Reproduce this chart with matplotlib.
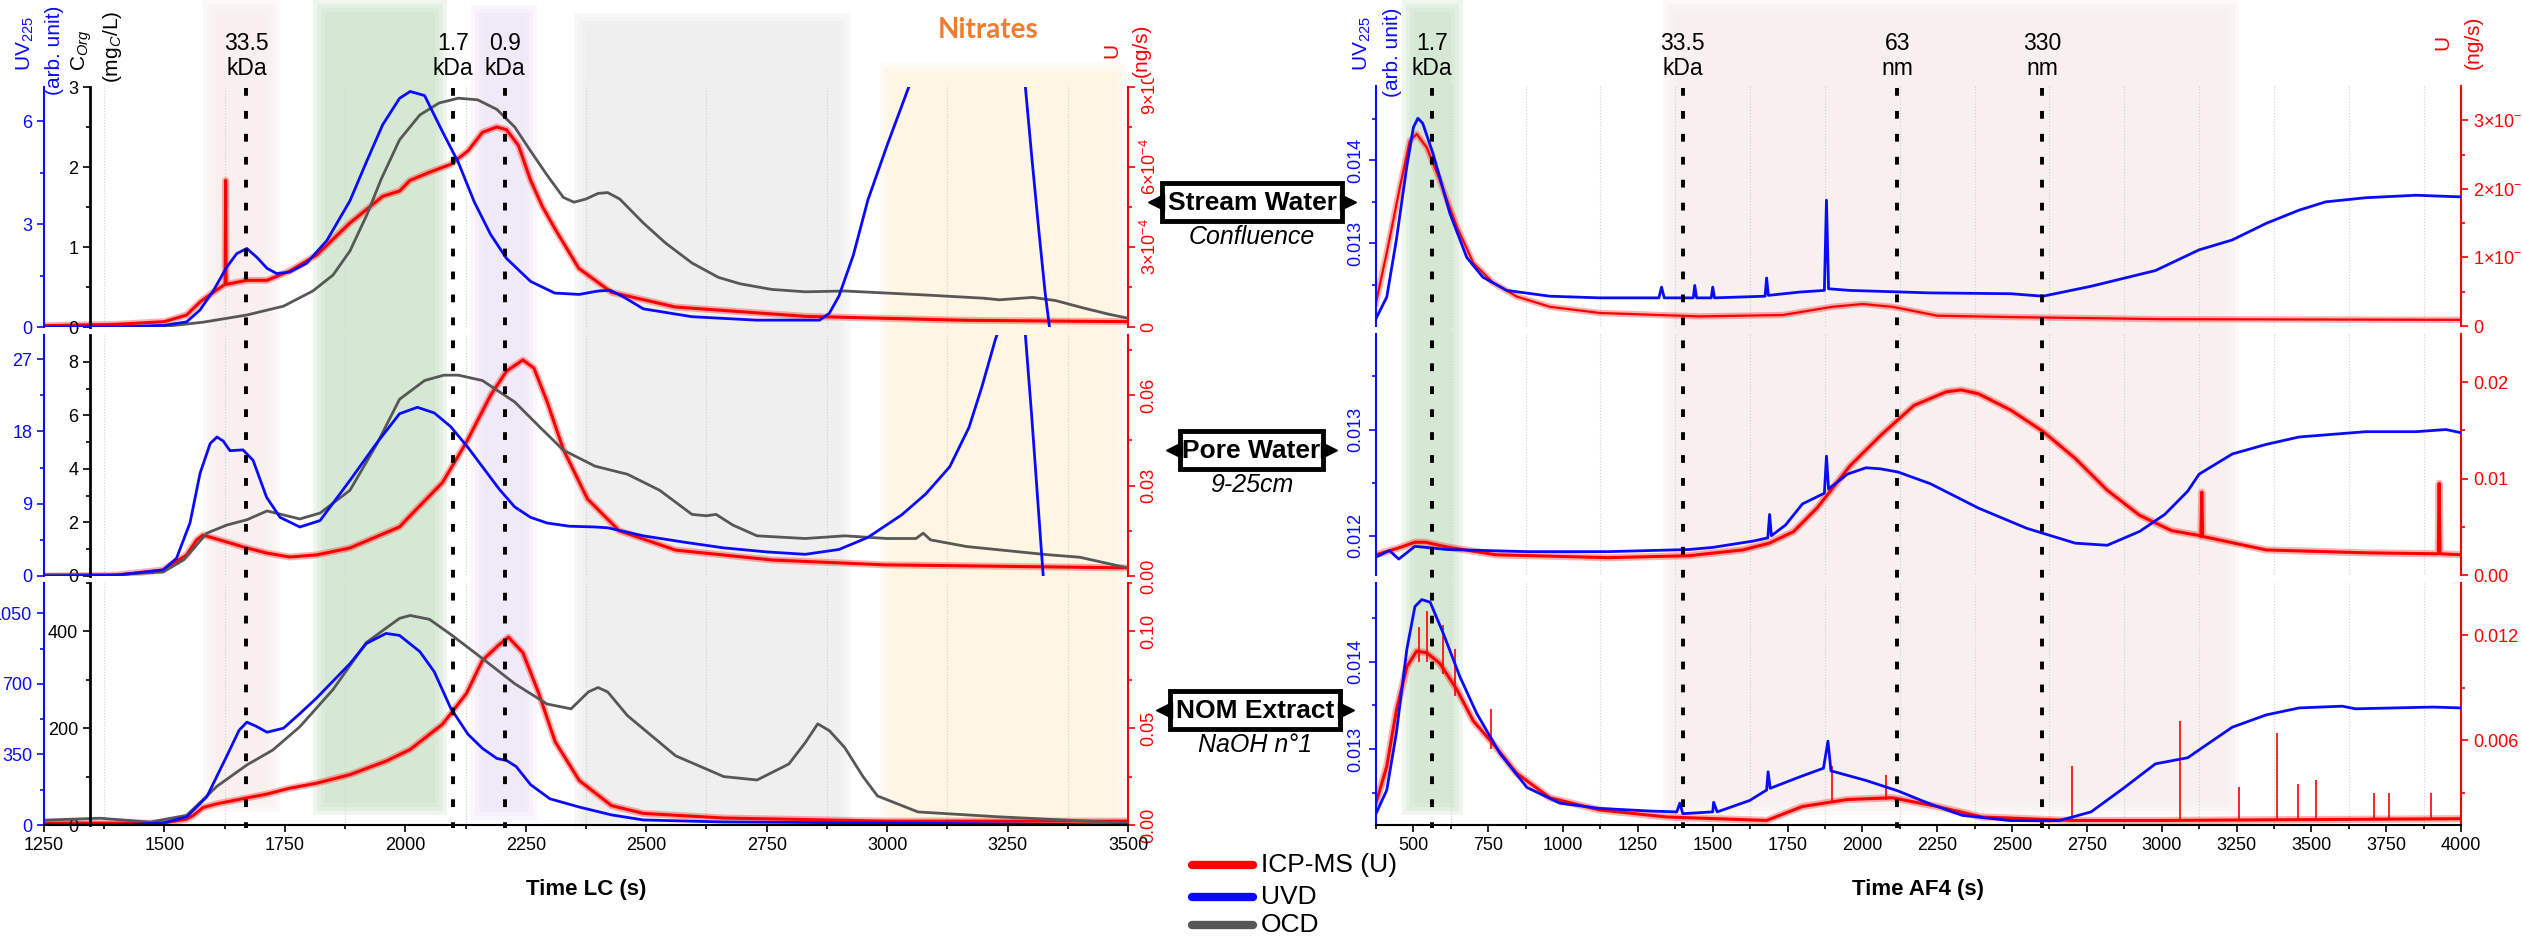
import numpy as np
import matplotlib.pyplot as plt
from matplotlib.patches import Rectangle
from matplotlib.ticker import FixedLocator, FixedFormatter, MultipleLocator

plt.rcParams['font.family'] = ['Liberation Sans', 'DejaVu Sans']
plt.rcParams['mathtext.fontset'] = 'custom'
plt.rcParams['mathtext.rm'] = 'Liberation Sans'
plt.rcParams['mathtext.it'] = 'Liberation Sans:italic'
plt.rcParams['mathtext.bf'] = 'Liberation Sans:bold'

W, H = 2522, 944
BLUE = '#0a0aff'
RED = '#ff0000'
GRAY = '#575757'
TICK_FS = 13

# ---------------- LC data (left), time in s ----------------
# Stream water
lc_uv_stream_t = [1250, 1400, 1500, 1546, 1574, 1602, 1629, 1650, 1671, 1692, 1713, 1733, 1760, 1795, 1837,
                  1885, 1920, 1953, 1988, 2010, 2040, 2077, 2110, 2143, 2177, 2210, 2260, 2310, 2361, 2400,
                  2425, 2450, 2494, 2595, 2728, 2830, 2860, 2880, 2900, 2930, 2960, 3000, 3045, 3070, 3270,
                  3287, 3300, 3315, 3328, 3337]
lc_uv_stream = [0, 0, 0.05, 0.15, 0.5, 1.07, 1.74, 2.14, 2.29, 2.03, 1.71, 1.56, 1.6, 1.86, 2.52,
                3.68, 4.84, 5.9, 6.67, 6.87, 6.75, 5.7, 4.8, 3.65, 2.7, 2.0, 1.33, 0.99, 0.95, 1.05,
                1.07, 0.9, 0.53, 0.3, 0.2, 0.2, 0.2, 0.4, 0.9, 2.1, 3.7, 5.3, 7.0, 8.0, 8.0,
                7.0, 5.0, 2.8, 1.0, 0.0]
lc_oc_stream_t = [1250, 1350, 1505, 1580, 1671, 1747, 1808, 1850, 1885, 1920, 1950, 1988, 2030, 2070, 2110,
                  2150, 2190, 2227, 2260, 2294, 2328, 2350, 2375, 2400, 2420, 2445, 2494, 2540, 2595, 2650,
                  2695, 2760, 2830, 2912, 2980, 3080, 3200, 3233, 3302, 3350, 3406, 3460, 3500]
lc_oc_stream = [0, 0, 0.01, 0.06, 0.15, 0.26, 0.45, 0.65, 0.95, 1.4, 1.85, 2.34, 2.65, 2.8, 2.86,
                2.84, 2.72, 2.5, 2.2, 1.9, 1.62, 1.56, 1.6, 1.67, 1.68, 1.6, 1.3, 1.05, 0.8, 0.62,
                0.54, 0.47, 0.44, 0.45, 0.43, 0.4, 0.36, 0.34, 0.37, 0.33, 0.24, 0.16, 0.11]
lc_u_stream_t = [1250, 1400, 1500, 1546, 1574, 1609, 1626, 1627, 1628, 1671, 1713, 1760, 1816, 1885, 1953,
                 1988, 2010, 2050, 2094, 2130, 2160, 2190, 2210, 2235, 2260, 2285, 2310, 2360, 2428, 2560,
                 2830, 3165, 3500]
lc_u_stream_e4 = [0.05, 0.1, 0.2, 0.45, 0.94, 1.4, 1.6, 5.5, 1.6, 1.75, 1.75, 2.1, 2.7, 3.9, 4.9,
                  5.1, 5.5, 5.8, 6.1, 6.6, 7.3, 7.5, 7.4, 6.8, 5.5, 4.5, 3.7, 2.2, 1.3, 0.75,
                  0.4, 0.25, 0.2]

# Pore water
lc_uv_pore_t = [1250, 1400, 1497, 1525, 1553, 1574, 1595, 1609, 1622, 1636, 1663, 1684, 1712, 1740, 1781,
                1823, 1885, 1940, 1988, 2025, 2060, 2094, 2130, 2160, 2195, 2227, 2260, 2294, 2340, 2394,
                2420, 2450, 2494, 2580, 2661, 2750, 2830, 2900, 2960, 3030, 3080, 3130, 3170, 3197, 3225,
                3240, 3280, 3287, 3300, 3312, 3324]
lc_uv_pore = [0, 0.1, 0.75, 2.2, 6.6, 12.8, 16.5, 17.3, 16.8, 15.6, 15.7, 14.4, 9.8, 7.3, 6.1,
              6.9, 11.9, 16.5, 20.2, 21.0, 20.3, 18.6, 16.0, 13.6, 10.8, 8.6, 7.3, 6.6, 6.2, 6.1,
              6.0, 5.6, 5.0, 4.2, 3.5, 3.0, 2.7, 3.3, 4.8, 7.6, 10.2, 13.6, 18.5, 23.6, 29.5,
              32, 32, 30, 20, 10, 0]
lc_oc_pore_t = [1250, 1400, 1497, 1540, 1588, 1629, 1671, 1713, 1747, 1781, 1823, 1885, 1940, 1988, 2040,
                2080, 2110, 2160, 2227, 2277, 2328, 2394, 2461, 2528, 2595, 2625, 2645, 2680, 2730, 2830,
                2912, 3000, 3060, 3075, 3090, 3165, 3330, 3400, 3500]
lc_oc_pore = [0.05, 0.05, 0.15, 0.6, 1.6, 1.9, 2.1, 2.43, 2.28, 2.13, 2.35, 3.2, 4.9, 6.6, 7.3,
              7.5, 7.5, 7.3, 6.5, 5.6, 4.7, 4.1, 3.8, 3.2, 2.3, 2.25, 2.3, 1.9, 1.5, 1.4,
              1.5, 1.4, 1.4, 1.6, 1.35, 1.1, 0.8, 0.7, 0.3]
lc_u_pore_t = [1250, 1400, 1497, 1546, 1567, 1580, 1629, 1671, 1713, 1760, 1816, 1885, 1988, 2010, 2077,
               2127, 2177, 2210, 2244, 2267, 2294, 2328, 2378, 2444, 2561, 2762, 2996, 3500]
lc_u_pore = [0, 0.0003, 0.002, 0.007, 0.012, 0.0136, 0.0113, 0.0093, 0.0076, 0.0063, 0.007, 0.0093, 0.0163,
             0.020, 0.031, 0.0445, 0.060, 0.068, 0.0717, 0.069, 0.058, 0.042, 0.0256, 0.015, 0.0086,
             0.0053, 0.0037, 0.0027]

# NOM extract
lc_uv_nom_t = [1250, 1400, 1497, 1546, 1588, 1629, 1655, 1671, 1690, 1713, 1747, 1780, 1816, 1885, 1919,
               1960, 1988, 2030, 2060, 2094, 2130, 2160, 2190, 2210, 2230, 2260, 2300, 2361, 2428, 2494,
               2660, 3000, 3500]
lc_uv_nom = [0, 0, 10, 40, 140, 340, 470, 510, 490, 460, 480, 550, 630, 800, 900,
             950, 940, 860, 760, 580, 450, 380, 330, 320, 290, 200, 130, 89, 50, 25,
             15, 10, 0]
lc_oc_nom_t = [1250, 1366, 1470, 1546, 1609, 1671, 1725, 1781, 1850, 1919, 1988, 2010, 2050, 2094, 2160,
               2227, 2294, 2344, 2380, 2400, 2420, 2461, 2561, 2661, 2730, 2796, 2830, 2856, 2880, 2912,
               2950, 2980, 3064, 3230, 3500]
lc_oc_nom = [10, 14, 6, 20, 80, 124, 155, 203, 280, 377, 427, 433, 425, 394, 344,
             292, 250, 240, 275, 284, 275, 226, 143, 100, 93, 126, 170, 209, 195, 160,
             100, 60, 27, 17, 4]
lc_u_nom_t = [1250, 1497, 1546, 1560, 1580, 1610, 1671, 1713, 1760, 1816, 1885, 1960, 2010, 2077, 2127,
              2160, 2194, 2214, 2244, 2277, 2311, 2361, 2428, 2494, 2661, 3000, 3500]
lc_u_nom = [0.001, 0.001, 0.003, 0.005, 0.009, 0.011, 0.014, 0.016, 0.019, 0.0216, 0.026, 0.033, 0.039,
            0.052, 0.068, 0.085, 0.093, 0.097, 0.089, 0.068, 0.043, 0.023, 0.010, 0.006, 0.0036, 0.002, 0.002]

# ---------------- AF4 data (right), time in s ----------------
af4_uv_stream_t = [375, 411, 443, 478, 500, 515, 531, 565, 622, 678, 732, 812, 956, 1122, 1320,
                   1329, 1338, 1435, 1440, 1446, 1495, 1500, 1506, 1675, 1680, 1686, 1790, 1873, 1880,
                   1887, 1958, 2227, 2496, 2603, 2764, 2979, 3125, 3236, 3349, 3459, 3548, 3682, 3849, 4000]
af4_uv_stream = [0.01209, 0.01235, 0.01304, 0.01393, 0.01440, 0.01451, 0.01445, 0.01409, 0.01336, 0.01283,
                 0.01259, 0.01243, 0.01236, 0.01234, 0.01234, 0.01247, 0.01234, 0.01234, 0.01249, 0.01234,
                 0.01234, 0.01247, 0.01234, 0.01236, 0.01258, 0.01237, 0.01241, 0.01243, 0.01352, 0.01245,
                 0.01243, 0.0124, 0.01239, 0.01236, 0.01248, 0.01267, 0.01292, 0.01304, 0.01324, 0.0134,
                 0.0135, 0.01355, 0.01358, 0.01356]
af4_u_stream_t = [375, 411, 455, 488, 511, 545, 588, 645, 700, 766, 845, 956, 1122, 1456, 1734,
                  1900, 2000, 2100, 2250, 2496, 3000, 4000]
af4_u_stream_e4 = [0.34, 1.07, 2.03, 2.7, 2.8, 2.6, 2.13, 1.45, 0.92, 0.63, 0.43, 0.28, 0.19, 0.14, 0.16,
                   0.28, 0.32, 0.28, 0.15, 0.13, 0.1, 0.09]

af4_uv_pore_t = [375, 420, 451, 505, 613, 882, 1151, 1420, 1500, 1636, 1684, 1690, 1696, 1743, 1800,
                 1873, 1880, 1887, 1950, 2012, 2060, 2119, 2227, 2388, 2549, 2711, 2818, 2926, 3010, 3087,
                 3125, 3236, 3349, 3459, 3682, 3849, 3950, 4000]
af4_uv_pore = [0.0118, 0.01186, 0.01178, 0.0119, 0.01187, 0.01185, 0.01185, 0.01187, 0.01189, 0.01195,
               0.01198, 0.0122, 0.012, 0.0121, 0.0123, 0.0124, 0.01275, 0.01244, 0.01258, 0.01264,
               0.01263, 0.0126, 0.01249, 0.01226, 0.01207, 0.01193, 0.01191, 0.01204, 0.0122, 0.01242,
               0.01258, 0.01277, 0.01286, 0.01293, 0.01298, 0.01298, 0.0130, 0.01297]
af4_u_pore_t = [375, 450, 505, 540, 613, 775, 1151, 1420, 1600, 1689, 1770, 1850, 1958, 2065, 2173,
                2280, 2330, 2388, 2496, 2603, 2711, 2818, 2926, 3033, 3125, 3131, 3134, 3137, 3349, 3682,
                3924, 3927, 3930, 4000]
af4_u_pore = [0.0021, 0.0028, 0.0034, 0.0034, 0.0029, 0.0021, 0.0018, 0.002, 0.0026, 0.0033,
              0.0045, 0.007, 0.0113, 0.0146, 0.0176, 0.019, 0.0192, 0.0188, 0.0171, 0.0149,
              0.0121, 0.0088, 0.0062, 0.0046, 0.0041, 0.004, 0.0086, 0.004, 0.0026, 0.0023,
              0.0022, 0.0095, 0.0022, 0.0021]

af4_uv_nom_t = [375, 411, 443, 478, 505, 528, 556, 599, 655, 711, 789, 879, 989, 1122, 1289,
                1380, 1390, 1400, 1500, 1503, 1515, 1623, 1680, 1685, 1692, 1790, 1870, 1885, 1895, 2012,
                2119, 2227, 2334, 2496, 2657, 2764, 2872, 2979, 3087, 3125, 3236, 3349, 3459, 3603, 3648,
                3906, 4000]
af4_uv_nom = [0.01226, 0.01253, 0.01318, 0.01414, 0.01463, 0.01471, 0.01468, 0.01433, 0.01383, 0.01341,
              0.01295, 0.01256, 0.01238, 0.01232, 0.01229, 0.01228, 0.01238, 0.01226, 0.01228, 0.01239,
              0.01228, 0.01241, 0.01253, 0.01274, 0.01255, 0.01268, 0.01278, 0.01309, 0.01275, 0.01264,
              0.01252, 0.01237, 0.01224, 0.01218, 0.01218, 0.01228, 0.01255, 0.01283, 0.0129, 0.01299,
              0.01325, 0.01339, 0.01347, 0.01349, 0.01346, 0.01348, 0.01347]
af4_u_nom_t = [375, 411, 443, 478, 511, 545, 588, 645, 700, 766, 845, 956, 1122, 1346, 1680,
               1800, 1950, 2100, 2250, 2400, 2700, 3000, 4000]
af4_u_nom = [0.0024, 0.0045, 0.0077, 0.0102, 0.0111, 0.011, 0.0104, 0.0089, 0.0071, 0.0058,
             0.0041, 0.0027, 0.002, 0.0016, 0.0014, 0.0022, 0.0026, 0.0027, 0.0022, 0.0016,
             0.0014, 0.0014, 0.0015]
af4_u_nom_spike_t = [520, 545, 600, 640, 760, 1900, 2080, 2700, 3060, 3259, 3384, 3454, 3516, 3710, 3760, 3900]
af4_u_nom_spike_top = [0.0125, 0.0134, 0.0126, 0.0112, 0.0078, 0.0045, 0.004, 0.0045, 0.0071, 0.0033,
                       0.0064, 0.0035, 0.0037, 0.003, 0.003, 0.003]
af4_u_nom_spike_base = [0.0105, 0.0105, 0.0098, 0.0085, 0.0055, 0.0024, 0.0026, 0.0014, 0.0014, 0.0014,
                        0.0014, 0.0014, 0.0014, 0.0014, 0.0014, 0.0014]

# size markers and fractions
lc_mark_t = [1670, 2099, 2206]
lc_mark_lbl = ['33.5\nkDa', '1.7\nkDa', '0.9\nkDa']
af4_mark_t = [562, 1400, 2117, 2601]
af4_mark_lbl = ['1.7\nkDa', '33.5\nkDa', '63\nnm', '330\nnm']

sample_names = ['Stream Water', 'Pore Water', 'NOM Extract']
sample_sub = ['Confluence', '9-25cm', 'NaOH n°1']

# ---------------- layout helpers ----------------
fig = plt.figure(figsize=(W / 100, H / 100), dpi=100)


def px_rect(x0, y0, x1, y1):
    return [x0 / W, 1 - y1 / H, (x1 - x0) / W, (y1 - y0) / H]


def fixed_ticks(axis, major, minor, labels=None):
    axis.set_major_locator(FixedLocator(major))
    axis.set_minor_locator(FixedLocator(minor))
    if labels is not None:
        axis.set_major_formatter(FixedFormatter(labels))


def make_row(x0, x1, y0, y1, xlim, bottom, blue_rot):
    ax_b = fig.add_axes(px_rect(x0, y0, x1, y1), zorder=4)
    ax_b.patch.set_visible(False)
    ax_b.set_xlim(*xlim)
    ax_r = ax_b.twinx()
    ax_r.set_zorder(2)
    for a in (ax_b, ax_r):
        for s in a.spines.values():
            s.set_visible(False)
    ax_b.spines['left'].set_visible(True)
    ax_b.spines['left'].set_color(BLUE)
    ax_b.spines['left'].set_linewidth(1.5)
    ax_r.spines['right'].set_visible(True)
    ax_r.spines['right'].set_color(RED)
    ax_r.spines['right'].set_linewidth(1.5)
    ax_b.tick_params(axis='y', which='both', colors=BLUE, direction='out', labelsize=TICK_FS, width=1.2)
    ax_r.tick_params(axis='y', which='both', colors=RED, direction='out', labelsize=TICK_FS, width=1.2)
    for a in (ax_b, ax_r):
        a.tick_params(axis='y', which='major', length=5)
        a.tick_params(axis='y', which='minor', length=3)
    if blue_rot:
        ax_b.tick_params(axis='y', labelrotation=90)
    if bottom:
        ax_b.spines['bottom'].set_visible(True)
        ax_b.spines['bottom'].set_linewidth(1.5)
        ax_b.xaxis.set_major_locator(MultipleLocator(250))
        ax_b.xaxis.set_minor_locator(MultipleLocator(125))
        ax_b.tick_params(axis='x', which='both', direction='out', labelsize=TICK_FS, width=1.2, pad=4)
        ax_b.tick_params(axis='x', which='major', length=5)
        ax_b.tick_params(axis='x', which='minor', length=3)
    else:
        ax_b.tick_params(axis='x', which='both', bottom=False, labelbottom=False)
    return ax_b, ax_r


def make_black(ax_b, pos):
    ax_k = ax_b.twinx()
    ax_k.set_zorder(3)
    for s in ax_k.spines.values():
        s.set_visible(False)
    ax_k.yaxis.tick_left()
    ax_k.spines['left'].set_visible(True)
    ax_k.spines['left'].set_position(('axes', pos))
    ax_k.spines['left'].set_linewidth(2)
    ax_k.tick_params(axis='y', which='both', colors='black', direction='out', labelsize=TICK_FS, width=1.2)
    ax_k.tick_params(axis='y', which='major', length=5)
    ax_k.tick_params(axis='y', which='minor', length=3)
    return ax_k


def full_axes(x0, x1, xlim, z):
    a = fig.add_axes(px_rect(x0, 0, x1, H), zorder=z)
    a.set_xlim(*xlim)
    a.set_ylim(H, 0)
    a.axis('off')
    return a


def draw_bands(bg, bands, xlim, wpx):
    per_px = (xlim[1] - xlim[0]) / wpx
    for t0, t1, top, bot, col in bands:
        for k in range(4):
            ins = 4 * k
            d = ins * per_px
            bg.add_patch(Rectangle((t0 + d, top + ins), (t1 - t0) - 2 * d, (bot - top) - 2 * ins,
                                   facecolor=col, edgecolor='none', alpha=0.3))


PINK, GREEN, PURPLE, LGRAY, YELLOW = '#f6eeeb', '#c9e2c8', '#ece3f6', '#ebebeb', '#fef3dc'
DOTS = (0, (2.0, 3.9))

# ---------------- LC panel ----------------
LX0, LX1, LXLIM = 44, 1128, (1250, 3500)
lc_rows = [(87, 327), (335, 576), (583, 825)]
bg = full_axes(LX0, LX1, LXLIM, 0)
draw_bands(bg, [(1580, 1740, 0, 812, PINK), (1808, 2086, 0, 815, GREEN), (2136, 2273, 5, 820, PURPLE),
                (2350, 2926, 13, 830, LGRAY), (2986, 3495, 63, 830, YELLOW)], LXLIM, LX1 - LX0)
for y0, y1 in lc_rows:
    bg.vlines(np.arange(1375, 3500, 250), y0, y1, colors='#cfcfcf', lw=0.8, linestyles=':')

lc_specs = [
    dict(uv=(lc_uv_stream_t, lc_uv_stream), oc=(lc_oc_stream_t, lc_oc_stream),
         u=(lc_u_stream_t, np.array(lc_u_stream_e4) * 1e-4),
         uvlim=(0, 7), uvmaj=[0, 3, 6], uvmin=[1.5, 4.5],
         oclim=(0, 3), ocmaj=[0, 1, 2, 3], ocmin=[0.5, 1.5, 2.5],
         ulim=(0, 9e-4), umaj=[0, 3e-4, 6e-4, 9e-4], umin=[1.5e-4, 4.5e-4, 7.5e-4],
         ulbl=['0', r'$3{\times}10^{-4}$', r'$6{\times}10^{-4}$', r'$9{\times}10^{-4}$']),
    dict(uv=(lc_uv_pore_t, lc_uv_pore), oc=(lc_oc_pore_t, lc_oc_pore), u=(lc_u_pore_t, lc_u_pore),
         uvlim=(0, 30), uvmaj=[0, 9, 18, 27], uvmin=[4.5, 13.5, 22.5],
         oclim=(0, 9), ocmaj=[0, 2, 4, 6, 8], ocmin=[1, 3, 5, 7],
         ulim=(0, 0.08), umaj=[0, 0.03, 0.06], umin=[0.015, 0.045, 0.075],
         ulbl=['0.00', '0.03', '0.06']),
    dict(uv=(lc_uv_nom_t, lc_uv_nom), oc=(lc_oc_nom_t, lc_oc_nom), u=(lc_u_nom_t, lc_u_nom),
         uvlim=(0, 1200), uvmaj=[0, 350, 700, 1050], uvmin=[175, 525, 875],
         oclim=(0, 500), ocmaj=[0, 200, 400], ocmin=[100, 300, 500],
         ulim=(0, 0.125), umaj=[0, 0.05, 0.10], umin=[0.025, 0.075, 0.125],
         ulbl=['0.00', '0.05', '0.10']),
]

for i, ((y0, y1), sp) in enumerate(zip(lc_rows, lc_specs)):
    ax_b, ax_r = make_row(LX0, LX1, y0, y1, LXLIM, i == 2, False)
    ax_k = make_black(ax_b, 0.0424)
    ax_r.plot(*sp['u'], color=RED, lw=5, alpha=0.3, solid_joinstyle='round')
    ax_r.plot(*sp['u'], color=RED, lw=2.2)
    ax_k.plot(*sp['oc'], color=GRAY, lw=2)
    ax_b.plot(*sp['uv'], color=BLUE, lw=2)
    ax_b.set_ylim(*sp['uvlim'])
    ax_k.set_ylim(*sp['oclim'])
    ax_r.set_ylim(*sp['ulim'])
    fixed_ticks(ax_b.yaxis, sp['uvmaj'], sp['uvmin'])
    fixed_ticks(ax_k.yaxis, sp['ocmaj'], sp['ocmin'])
    fixed_ticks(ax_r.yaxis, sp['umaj'], sp['umin'], sp['ulbl'])
    ax_r.tick_params(axis='y', labelrotation=90)
    plt.setp(ax_r.get_yticklabels(), va='center')
    ax_b.set_xlim(*LXLIM)

fg = full_axes(LX0, LX1, LXLIM, 8)
fg.vlines(lc_mark_t, 88, 828, colors='black', lw=2.8, linestyles=DOTS)
for t, lbl in zip(lc_mark_t, lc_mark_lbl):
    fg.text(t, 56, lbl, ha='center', va='center', fontsize=16.5, linespacing=1.15)

# ---------------- AF4 panel ----------------
RX0, RX1, RXLIM = 1376, 2461, (375, 4000)
af4_rows = [(86, 326), (334, 575), (583, 825)]
bg2 = full_axes(RX0, RX1, RXLIM, 0)
draw_bands(bg2, [(462, 665, 0, 815, GREEN), (1333, 3259, 0, 815, PINK)], RXLIM, RX1 - RX0)
for y0, y1 in af4_rows:
    bg2.vlines(np.arange(625, 4000, 250), y0, y1, colors='#cfcfcf', lw=0.8, linestyles=':')

af4_specs = [
    dict(uv=(af4_uv_stream_t, af4_uv_stream), u=(af4_u_stream_t, np.array(af4_u_stream_e4) * 1e-4), ulw=1.6,
         uvlim=(0.0120, 0.0149), uvmaj=[0.013, 0.014], uvmin=[0.0125, 0.0135, 0.0145],
         ulim=(0, 3.5e-4), umaj=[0, 1e-4, 2e-4, 3e-4], umin=[0.5e-4, 1.5e-4, 2.5e-4],
         ulbl=['0', r'$1{\times}10^{-4}$', r'$2{\times}10^{-4}$', r'$3{\times}10^{-4}$']),
    dict(uv=(af4_uv_pore_t, af4_uv_pore), u=(af4_u_pore_t, af4_u_pore), ulw=2.2,
         uvlim=(0.01163, 0.0139), uvmaj=[0.012, 0.013], uvmin=[0.0125, 0.0135],
         ulim=(0, 0.025), umaj=[0, 0.01, 0.02], umin=[0.005, 0.015],
         ulbl=['0.00', '0.01', '0.02']),
    dict(uv=(af4_uv_nom_t, af4_uv_nom), u=(af4_u_nom_t, af4_u_nom), ulw=2.2,
         uvlim=(0.01213, 0.0149), uvmaj=[0.013, 0.014], uvmin=[0.0125, 0.0135, 0.0145],
         ulim=(0.00114, 0.015), umaj=[0.006, 0.012], umin=[0.003, 0.009],
         ulbl=['0.006', '0.012']),
]

for i, ((y0, y1), sp) in enumerate(zip(af4_rows, af4_specs)):
    ax_b, ax_r = make_row(RX0, RX1, y0, y1, RXLIM, i == 2, True)
    ax_r.plot(*sp['u'], color=RED, lw=sp['ulw'] + 3, alpha=0.3)
    ax_r.plot(*sp['u'], color=RED, lw=sp['ulw'])
    if i == 2:
        ax_r.vlines(af4_u_nom_spike_t, af4_u_nom_spike_base, af4_u_nom_spike_top, colors=RED, lw=1.2)
    ax_b.plot(*sp['uv'], color=BLUE, lw=2)
    ax_b.set_ylim(*sp['uvlim'])
    ax_r.set_ylim(*sp['ulim'])
    fixed_ticks(ax_b.yaxis, sp['uvmaj'], sp['uvmin'], ['%.3f' % v for v in sp['uvmaj']])
    fixed_ticks(ax_r.yaxis, sp['umaj'], sp['umin'], sp['ulbl'])
    plt.setp(ax_b.get_yticklabels(), va='center')
    ax_b.set_xlim(*RXLIM)
    if i == 2:
        ax_b.set_xticks([500, 750, 1000, 1250, 1500, 1750, 2000, 2250, 2500, 2750, 3000, 3250, 3500, 3750, 4000])
        ax_b.xaxis.set_minor_locator(FixedLocator(np.arange(375, 4001, 125)))

fg2 = full_axes(RX0, RX1, RXLIM, 8)
fg2.vlines(af4_mark_t, 88, 828, colors='black', lw=2.8, linestyles=DOTS)
for t, lbl in zip(af4_mark_t, af4_mark_lbl):
    fg2.text(t, 56, lbl, ha='center', va='center', fontsize=16.5, linespacing=1.15)

# ---------------- overlay texts ----------------
ov = fig.add_axes([0, 0, 1, 1], zorder=20)
ov.set_xlim(0, W)
ov.set_ylim(H, 0)
ov.axis('off')

ylabels = [('UV$_{225}$', 25, 44, BLUE), ('(arb. unit)', 55, 50, BLUE),
           ('C$_{Org}$', 82, 50, 'black'), ('(mg$_C$/L)', 113, 47, 'black'),
           ('U', 1112, 50, RED), ('(ng/s)', 1141, 50, RED),
           ('UV$_{225}$', 1362, 44, BLUE), ('(arb. unit)', 1393, 52, BLUE),
           ('U', 2443, 42, RED), ('(ng/s)', 2473, 42, RED)]
for txt, x, y, c in ylabels:
    kw = {}
    if txt == '(ng/s)' and x < 2000:
        kw['bbox'] = dict(boxstyle='square,pad=0.1', fc='white', ec='none')
    ov.text(x, y, txt, rotation=90, ha='center', va='center', fontsize=15, color=c, **kw)

ov.text(988, 30, 'Nitrates', ha='center', va='center', fontsize=20, fontweight='bold',
        color='#ed7d31', family=['Lato', 'DejaVu Sans'])

ov.text(586, 889, 'Time LC (s)', ha='center', va='center', fontsize=16, fontweight='bold')
ov.text(1918, 889, 'Time AF4 (s)', ha='center', va='center', fontsize=16, fontweight='bold')

boxes = [(1162, 1342, 202, 237), (1180, 1323, 450, 485), (1170, 1340, 710, 745)]
for (bx0, bx1, cy, sy), name, sub in zip(boxes, sample_names, sample_sub):
    ov.add_patch(Rectangle((bx0, cy - 19), bx1 - bx0, 38, fc='white', ec='black', lw=3.5))
    ov.plot([bx0 - 6], [cy], marker='<', ms=12, color='black')
    ov.plot([bx1 + 6], [cy], marker='>', ms=12, color='black')
    ov.text((bx0 + bx1) / 2, cy + 1, name, ha='center', va='center', fontsize=19, fontweight='bold')
    ov.text((bx0 + bx1) / 2, sy, sub, ha='center', va='center', fontsize=18, style='italic')

legend_items = [('ICP-MS (U)', RED, 865), ('UVD', BLUE, 897), ('OCD', GRAY, 925)]
for lbl, c, y in legend_items:
    ov.plot([1192, 1253], [y, y], color=c, lw=6, solid_capstyle='round')
    ov.text(1261, y, lbl, ha='left', va='center', fontsize=19)

fig.savefig('out.png', dpi=100)
